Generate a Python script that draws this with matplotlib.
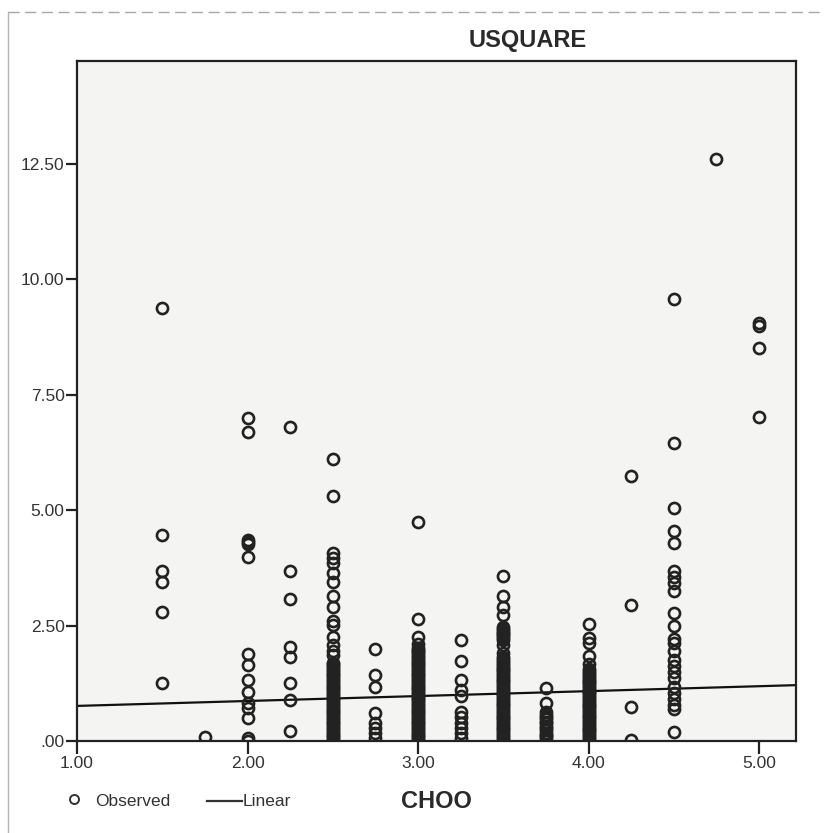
"""USQUARE vs CHOO scatter with linear fit (SPSS-style curve estimation plot)."""
import matplotlib
matplotlib.use("Agg")
import matplotlib.pyplot as plt
from matplotlib.lines import Line2D

plt.rcParams["font.family"] = ["Liberation Sans", "DejaVu Sans"]

choo_levels = [1.5, 1.75, 2.0, 2.25, 2.5, 2.75, 3.0, 3.25, 3.5, 3.75, 4.0, 4.25, 4.5, 4.75, 5.0]
usq_150 = [9.38, 4.46, 3.68, 3.44, 2.79, 1.25]
usq_175 = [0.09]
usq_200 = [7.0, 6.69, 4.35, 4.31, 4.27, 3.99, 1.88, 1.64, 1.32, 1.06, 0.82, 0.72, 0.5, 0.06, 0.01]
usq_225 = [6.8, 3.68, 3.08, 2.04, 1.82, 1.26, 0.89, 0.22]
usq_250 = [6.1, 5.3, 4.07, 3.96, 3.85, 3.65, 3.45, 3.14, 2.9, 2.6, 2.52, 2.25, 2.08, 1.95, 1.86,
           1.70, 1.66, 1.62, 1.58, 1.54, 1.50, 1.46, 1.42, 1.38, 1.34, 1.30, 1.26, 1.22,
           1.18, 1.14, 1.10, 1.06, 1.02, 0.98, 0.94, 0.90, 0.86, 0.82, 0.78, 0.74, 0.70,
           0.66, 0.62, 0.58, 0.54, 0.50, 0.46, 0.42, 0.38, 0.34, 0.30, 0.26, 0.22, 0.18,
           0.14, 0.10, 0.06, 0.02]
usq_275 = [1.99, 1.43, 1.17, 0.61, 0.39, 0.28, 0.17, 0.06]
usq_300 = [4.74, 2.64, 2.25, 2.1, 2.02, 1.98, 1.94, 1.90, 1.86, 1.82, 1.78, 1.74, 1.70,
           1.66, 1.62, 1.58, 1.54, 1.50, 1.46, 1.42, 1.38, 1.34, 1.30, 1.26, 1.22, 1.18,
           1.14, 1.10, 1.06, 1.02, 0.98, 0.94, 0.90, 0.86, 0.82, 0.78, 0.74, 0.70, 0.66,
           0.62, 0.58, 0.54, 0.50, 0.46, 0.42, 0.38, 0.34, 0.30, 0.26, 0.22, 0.18, 0.14,
           0.10, 0.06, 0.02]
usq_325 = [2.19, 1.73, 1.32, 1.1, 0.97, 0.63, 0.52, 0.39, 0.28, 0.17, 0.06]
usq_350 = [3.57, 3.14, 2.9, 2.73, 2.47, 2.43, 2.39, 2.35, 2.31, 2.27, 2.23, 2.18, 2.08,
           1.9, 1.81, 1.77, 1.73, 1.69, 1.65, 1.61, 1.57, 1.53, 1.49, 1.45, 1.41, 1.37,
           1.33, 1.29, 1.25, 1.21, 1.17, 1.13, 1.09, 1.05, 1.01, 0.97, 0.93, 0.89, 0.85,
           0.81, 0.77, 0.73, 0.69, 0.65, 0.61, 0.57, 0.53, 0.49, 0.45, 0.41, 0.37, 0.33,
           0.29, 0.25, 0.21, 0.17, 0.13, 0.09, 0.05, 0.01]
usq_375 = [1.15, 0.83, 0.63, 0.57, 0.52, 0.47, 0.42, 0.38, 0.33, 0.28, 0.23, 0.18, 0.14,
           0.10, 0.06, 0.01]
usq_400 = [2.53, 2.23, 2.12, 1.85, 1.67, 1.55, 1.51, 1.47, 1.43, 1.39, 1.35, 1.31, 1.27,
           1.23, 1.19, 1.15, 1.11, 1.07, 1.03, 0.99, 0.95, 0.91, 0.87, 0.83, 0.79, 0.75,
           0.71, 0.67, 0.63, 0.59, 0.55, 0.51, 0.47, 0.43, 0.39, 0.35, 0.31, 0.27, 0.23,
           0.19, 0.15, 0.11, 0.07, 0.03]
usq_425 = [5.74, 2.95, 0.74, 0.02]
usq_450 = [9.58, 6.46, 5.05, 4.55, 4.29, 3.69, 3.56, 3.43, 3.25, 2.78, 2.5, 2.21, 2.12,
           1.95, 1.76, 1.63, 1.49, 1.36, 1.17, 1.04, 0.91, 0.78, 0.69, 0.2]
usq_475 = [12.61]
usq_500 = [9.05, 8.98, 8.51, 7.02]
usq_by_level = [usq_150, usq_175, usq_200, usq_225, usq_250, usq_275, usq_300, usq_325,
                usq_350, usq_375, usq_400, usq_425, usq_450, usq_475, usq_500]

# linear fit line (ends)
fit_x = [1.0, 5.217]
fit_y = [0.76, 1.21]

x_ticks = [1.0, 2.0, 3.0, 4.0, 5.0]
x_tick_labels = ["1.00", "2.00", "3.00", "4.00", "5.00"]
y_ticks = [0.0, 2.5, 5.0, 7.5, 10.0, 12.5]
y_tick_labels = [".00", "2.50", "5.00", "7.50", "10.00", "12.50"]

W, H = 824, 833
fig = plt.figure(figsize=(W / 100, H / 100), dpi=100)
fig.patch.set_facecolor("white")
ax = fig.add_axes([77 / W, 1 - 741 / H, (796 - 77) / W, (741 - 61) / H])
ax.set_facecolor("#f4f4f3")

pt_x, pt_y = [], []
for lvl, vals in zip(choo_levels, usq_by_level):
    pt_x.extend([lvl] * len(vals))
    pt_y.extend(vals)

ax.plot(fit_x, fit_y, color="#111111", lw=1.6, zorder=2)
ax.plot(pt_x, pt_y, ls="none", marker="o", ms=8.0, mfc="none", mec="#222222",
        mew=1.9, zorder=3)

ax.set_xlim(1.0, 5.217)
ax.set_ylim(0.0, 14.73)
ax.set_xticks(x_ticks, x_tick_labels)
ax.set_yticks(y_ticks, y_tick_labels)
ax.tick_params(axis="x", length=9, width=1.6, pad=2, labelsize=12.5,
               colors="#222222", labelcolor="#333333")
ax.tick_params(axis="y", length=8, width=1.6, pad=1, labelsize=12.5,
               colors="#222222", labelcolor="#333333")
for s in ax.spines.values():
    s.set_linewidth(1.6)
    s.set_color("#222222")

fig.text(528 / W, 1 - 40 / H, "USQUARE", ha="center", va="center",
         fontsize=17, fontweight="bold", color="#2a2a2a")
fig.text(436 / W, 1 - 802 / H, "CHOO", ha="center", va="center",
         fontsize=17, fontweight="bold", color="#2a2a2a")

# legend
fig.add_artist(Line2D([74 / W], [1 - 799 / H], transform=fig.transFigure, ls="none",
                      marker="o", ms=6.5, mfc="none", mec="#333333", mew=1.4))
fig.text(95 / W, 1 - 801 / H, "Observed", ha="left", va="center", fontsize=12.5,
         color="#333333")
fig.add_artist(Line2D([207 / W, 242 / W], [1 - 801 / H, 1 - 801 / H],
                      transform=fig.transFigure, color="#333333", lw=1.6))
fig.text(243 / W, 1 - 802 / H, "Linear", ha="left", va="center", fontsize=12.5,
         color="#333333")

# scanned page frame
fig.add_artist(Line2D([8 / W, 8 / W], [1 - 12 / H, 0], transform=fig.transFigure,
                      color="#b5b5b5", lw=1.0))
fig.add_artist(Line2D([8 / W, 1.0], [1 - 12 / H, 1 - 12 / H], transform=fig.transFigure,
                      color="#a8a8a8", lw=1.0, ls=(0, (8, 4))))

fig.savefig("out.png", dpi=100)
